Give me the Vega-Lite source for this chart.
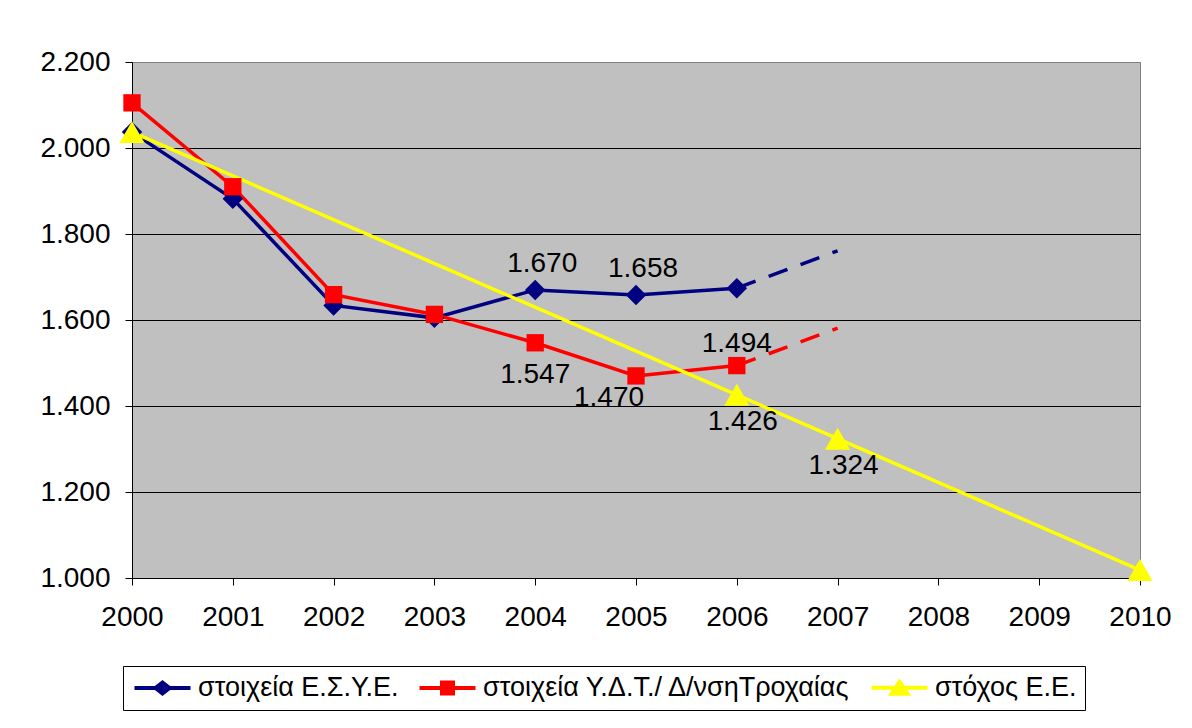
{
  "$schema": "https://vega.github.io/schema/vega-lite/v6.json",
  "width": 1008,
  "height": 516,
  "autosize": {"type": "none"},
  "padding": {"left": 132, "top": 62, "right": 52, "bottom": 150},
  "background": "white",
  "config": {
    "locale": {"number": {"decimal": ",", "thousands": ".", "grouping": [3], "currency": ["", " €"]}},
    "view": {"fill": "#C0C0C0", "stroke": "#808080", "strokeWidth": 1},
    "font": "Liberation Sans",
    "axis": {"labelFont": "Liberation Sans", "labelFontSize": 28, "labelColor": "black", "title": null, "domainColor": "black", "tickColor": "black", "tickSize": 7, "labelFlush": false, "labelBound": false, "labelOverlap": false}
  },
  "data": {
    "values": [
      {"series": "στοιχεία Ε.Σ.Υ.Ε.", "year": 2000, "value": 2037, "part": "actual"},
      {"series": "στοιχεία Ε.Σ.Υ.Ε.", "year": 2001, "value": 1882, "part": "actual"},
      {"series": "στοιχεία Ε.Σ.Υ.Ε.", "year": 2002, "value": 1634, "part": "actual"},
      {"series": "στοιχεία Ε.Σ.Υ.Ε.", "year": 2003, "value": 1605, "part": "actual"},
      {"series": "στοιχεία Ε.Σ.Υ.Ε.", "year": 2004, "value": 1670, "part": "actual"},
      {"series": "στοιχεία Ε.Σ.Υ.Ε.", "year": 2005, "value": 1658, "part": "actual"},
      {"series": "στοιχεία Ε.Σ.Υ.Ε.", "year": 2006, "value": 1674, "part": "actual"},
      {"series": "στοιχεία Ε.Σ.Υ.Ε.", "year": 2006, "value": 1674, "part": "proj"},
      {"series": "στοιχεία Ε.Σ.Υ.Ε.", "year": 2007, "value": 1761, "part": "proj"},
      {"series": "στοιχεία Υ.Δ.Τ./ Δ/νσηΤροχαίας", "year": 2000, "value": 2105, "part": "actual"},
      {"series": "στοιχεία Υ.Δ.Τ./ Δ/νσηΤροχαίας", "year": 2001, "value": 1910, "part": "actual"},
      {"series": "στοιχεία Υ.Δ.Τ./ Δ/νσηΤροχαίας", "year": 2002, "value": 1659, "part": "actual"},
      {"series": "στοιχεία Υ.Δ.Τ./ Δ/νσηΤροχαίας", "year": 2003, "value": 1613, "part": "actual"},
      {"series": "στοιχεία Υ.Δ.Τ./ Δ/νσηΤροχαίας", "year": 2004, "value": 1547, "part": "actual"},
      {"series": "στοιχεία Υ.Δ.Τ./ Δ/νσηΤροχαίας", "year": 2005, "value": 1470, "part": "actual"},
      {"series": "στοιχεία Υ.Δ.Τ./ Δ/νσηΤροχαίας", "year": 2006, "value": 1494, "part": "actual"},
      {"series": "στοιχεία Υ.Δ.Τ./ Δ/νσηΤροχαίας", "year": 2006, "value": 1494, "part": "proj"},
      {"series": "στοιχεία Υ.Δ.Τ./ Δ/νσηΤροχαίας", "year": 2007, "value": 1581, "part": "proj"},
      {"series": "στόχος Ε.Ε.", "year": 2000, "value": 2037, "part": "actual"},
      {"series": "στόχος Ε.Ε.", "year": 2006, "value": 1426, "part": "actual"},
      {"series": "στόχος Ε.Ε.", "year": 2007, "value": 1324, "part": "actual"},
      {"series": "στόχος Ε.Ε.", "year": 2010, "value": 1018.5, "part": "actual"}
    ]
  },
  "encoding": {
    "x": {"field": "year", "type": "quantitative",
      "scale": {"domain": [2000, 2010], "nice": false, "zero": false},
      "axis": {"values": [2000, 2001, 2002, 2003, 2004, 2005, 2006, 2007, 2008, 2009, 2010], "format": "d", "grid": false, "labelPadding": 18}},
    "y": {"field": "value", "type": "quantitative",
      "scale": {"domain": [1000, 2200], "nice": false, "zero": false},
      "axis": {"values": [1000, 1200, 1400, 1600, 1800, 2000, 2200], "format": ",.0f", "grid": true,
        "gridColor": {"condition": {"test": "datum.value == 2200", "value": "#808080"}, "value": "black"},
        "gridOpacity": 1, "labelPadding": 15}}
  },
  "layer": [
    {
      "transform": [{"filter": "datum.part == 'actual'"}],
      "mark": {"type": "line", "strokeWidth": 3.5},
      "encoding": {
        "color": {"field": "series", "type": "nominal",
          "scale": {"domain": ["στοιχεία Ε.Σ.Υ.Ε.", "στοιχεία Υ.Δ.Τ./ Δ/νσηΤροχαίας", "στόχος Ε.Ε."], "range": ["#000080", "#FF0000", "#FFFF00"]},
          "legend": {
            "title": null, "orient": "none", "legendX": -9, "legendY": 604, "direction": "horizontal",
            "fillColor": "white", "strokeColor": "black", "padding": 8,
            "labelFont": "Liberation Sans", "labelFontSize": 27, "labelColor": "black",
            "labelOffset": 40, "columnPadding": 12, "symbolSize": 400, "labelLimit": 800,
            "symbolStrokeWidth": 4,
            "encode": {"symbols": {"update": {
              "shape": {"signal": "datum.value == 'στοιχεία Ε.Σ.Υ.Ε.' ? 'M-1,0L4.6,0M1.8,-0.55L2.5,0L1.8,0.55L1.1,0Z' : datum.value == 'στόχος Ε.Ε.' ? 'M-1,0L4.6,0M1,0.6L2.6,0.6L1.8,-0.6Z' : 'M-1,0L4.6,0M1.25,-0.55L2.35,-0.55L2.35,0.55L1.25,0.55Z'"},
              "strokeWidth": {"value": 4},
              "size": {"value": 400}
            }}}
          }},
        "detail": {"field": "series"}
      }
    },
    {
      "transform": [{"filter": "datum.part == 'proj'"}],
      "mark": {"type": "line", "strokeWidth": 3.5, "strokeDash": [20, 14]},
      "encoding": {
        "color": {"field": "series", "type": "nominal"},
        "detail": {"field": "series"}
      }
    },
    {
      "transform": [{"filter": "datum.part == 'actual' && datum.series == 'στοιχεία Ε.Σ.Υ.Ε.'"}],
      "mark": {"type": "point", "filled": true, "opacity": 1, "shape": "diamond", "size": 420},
      "encoding": {"color": {"field": "series", "type": "nominal"}}
    },
    {
      "transform": [{"filter": "datum.part == 'actual' && datum.series == 'στοιχεία Υ.Δ.Τ./ Δ/νσηΤροχαίας'"}],
      "mark": {"type": "point", "filled": true, "opacity": 1, "shape": "square", "size": 300},
      "encoding": {"color": {"field": "series", "type": "nominal"}}
    },
    {
      "transform": [{"filter": "datum.part == 'actual' && datum.series == 'στόχος Ε.Ε.'"}],
      "mark": {"type": "point", "filled": true, "opacity": 1, "shape": "triangle-up", "size": 640},
      "encoding": {"color": {"field": "series", "type": "nominal"}}
    },
    {
      "transform": [{"filter": "datum.part == 'actual' && datum.series == 'στοιχεία Ε.Σ.Υ.Ε.' && (datum.year == 2004 || datum.year == 2005)"}],
      "mark": {"type": "text", "fontSize": 28, "font": "Liberation Sans", "color": "black", "baseline": "middle", "dx": 7, "dy": -26},
      "encoding": {"text": {"field": "value", "type": "quantitative", "format": ",.0f"}}
    },
    {
      "transform": [{"filter": "datum.part == 'actual' && datum.series == 'στοιχεία Υ.Δ.Τ./ Δ/νσηΤροχαίας' && datum.year == 2004"}],
      "mark": {"type": "text", "fontSize": 28, "font": "Liberation Sans", "color": "black", "baseline": "middle", "dx": 0, "dy": 32},
      "encoding": {"text": {"field": "value", "type": "quantitative", "format": ",.0f"}}
    },
    {
      "transform": [{"filter": "datum.part == 'actual' && datum.series == 'στοιχεία Υ.Δ.Τ./ Δ/νσηΤροχαίας' && datum.year == 2005"}],
      "mark": {"type": "text", "fontSize": 28, "font": "Liberation Sans", "color": "black", "baseline": "middle", "dx": -27, "dy": 22},
      "encoding": {"text": {"field": "value", "type": "quantitative", "format": ",.0f"}}
    },
    {
      "transform": [{"filter": "datum.part == 'actual' && datum.series == 'στοιχεία Υ.Δ.Τ./ Δ/νσηΤροχαίας' && datum.year == 2006"}],
      "mark": {"type": "text", "fontSize": 28, "font": "Liberation Sans", "color": "black", "baseline": "middle", "dx": 0, "dy": -22},
      "encoding": {"text": {"field": "value", "type": "quantitative", "format": ",.0f"}}
    },
    {
      "transform": [{"filter": "datum.series == 'στόχος Ε.Ε.' && (datum.year == 2006 || datum.year == 2007)"}],
      "mark": {"type": "text", "fontSize": 28, "font": "Liberation Sans", "color": "black", "baseline": "middle", "dx": 6, "dy": 27},
      "encoding": {"text": {"field": "value", "type": "quantitative", "format": ",.0f"}}
    }
  ]
}
